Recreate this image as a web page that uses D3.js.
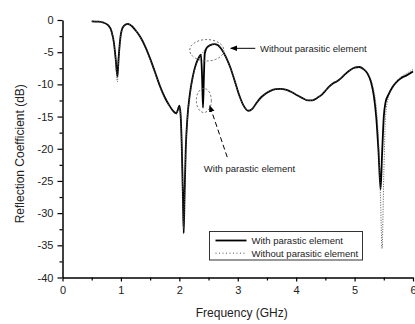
<!DOCTYPE html>
<html>
<head>
<meta charset="utf-8">
<script src="https://cdn.jsdelivr.net/npm/d3@7"></script>
<style>
  body { margin: 0; background: #fff; }
  svg text { font-family: "Liberation Sans", Arial, sans-serif; fill: #222; }
</style>
</head>
<body>
<div class="chart"></div>
<script>
// frequency (GHz) and reflection coefficient (dB)
var freq = [0.50, 0.60, 0.70, 0.78, 0.84, 0.88, 0.91, 0.94, 0.96, 0.99,
  1.03, 1.08, 1.12, 1.18, 1.25, 1.33, 1.42, 1.50, 1.58, 1.67,
  1.75, 1.83, 1.90, 1.95, 1.98, 2.00, 2.02, 2.04, 2.06, 2.075,
  2.09, 2.11, 2.14, 2.18, 2.23, 2.28, 2.33, 2.37, 2.39, 2.405,
  2.42, 2.435, 2.47, 2.53, 2.60, 2.66, 2.72, 2.80, 2.87, 2.95,
  3.03, 3.10, 3.18, 3.25, 3.32, 3.40, 3.48, 3.56, 3.65, 3.73,
  3.82, 3.90, 4.00, 4.10, 4.20, 4.28, 4.36, 4.44, 4.50, 4.56,
  4.64, 4.70, 4.76, 4.84, 4.92, 5.00, 5.08, 5.15, 5.22, 5.28,
  5.33, 5.37, 5.41, 5.445, 5.47, 5.50, 5.53, 5.58, 5.65, 5.72,
  5.80, 5.89, 6.00];

var withParasitic = [-0.2, -0.25, -0.4, -0.8, -1.8, -3.5, -6.0, -8.8, -6.0, -2.8,
  -1.2, -0.7, -0.6, -0.9, -1.6, -2.6, -4.2, -6.0, -8.0, -10.3,
  -12.0, -13.3, -14.2, -14.5, -13.8, -13.3, -14.5, -19.0, -27.0, -33.1,
  -27.0, -20.0, -15.0, -11.5, -8.8, -7.0, -5.9, -5.4, -9.0, -13.6,
  -9.0, -5.2, -4.3, -3.9, -3.75, -3.9, -4.5, -5.8, -7.3, -9.5,
  -11.8, -13.3, -14.1, -13.8, -12.9, -12.0, -11.4, -11.0, -10.75, -10.7,
  -10.8, -11.1, -11.6, -12.1, -12.5, -12.5, -12.1, -11.6, -11.0, -10.4,
  -9.8, -9.5, -9.1, -8.4, -7.8, -7.4, -7.3, -7.6, -8.3, -9.6,
  -11.8, -15.0, -20.5, -26.3, -21.0, -15.0, -12.8, -11.6, -10.4, -9.6,
  -9.0, -8.6, -8.0];

var withoutParasitic = [-0.2, -0.25, -0.4, -0.8, -1.8, -3.6, -6.3, -9.6, -6.4, -3.0,
  -1.3, -0.7, -0.6, -0.9, -1.6, -2.6, -4.3, -6.1, -8.1, -10.4,
  -12.1, -13.4, -14.3, -14.6, -13.9, -13.5, -14.8, -19.5, -28.0, -32.5,
  -27.5, -20.5, -15.3, -11.8, -9.0, -7.2, -6.0, -5.4, -5.2, -5.0,
  -4.8, -4.6, -4.3, -3.9, -3.75, -3.9, -4.5, -5.8, -7.3, -9.5,
  -11.8, -13.3, -14.1, -13.8, -12.9, -12.0, -11.4, -11.0, -10.75, -10.7,
  -10.8, -11.1, -11.6, -12.1, -12.5, -12.5, -12.1, -11.6, -11.0, -10.4,
  -9.8, -9.5, -9.1, -8.4, -7.8, -7.4, -7.3, -7.6, -8.2, -9.3,
  -11.0, -13.5, -19.0, -28.0, -35.5, -24.0, -15.0, -12.0, -10.6, -9.5,
  -8.8, -8.3, -7.7];

var xTicks = [0, 1, 2, 3, 4, 5, 6];
var yTicks = [0, -5, -10, -15, -20, -25, -30, -35, -40];
var seriesNames = ["With parastic element", "Without parasitic element"];

var w = 415;
var h = 324;
var margin = {top: 20, right: 2, bottom: 46.5, left: 62.5};

var svg = d3.select(".chart")
            .append("svg")
            .attr("width", w)
            .attr("height", h);

var x = d3.scaleLinear()
          .domain([0, 6])
          .range([margin.left, w - margin.right]);

var y = d3.scaleLinear()
          .domain([-40, 0])
          .range([h - margin.bottom, margin.top]);

// plain hyphen minus like the original
var plain = function(d){ return String(d); };

// minor ticks first, majors on top
svg.append("g")
    .attr("transform", "translate(0," + y(-40) + ")")
    .call(d3.axisBottom(x).tickValues(d3.range(0.5, 6, 1)).tickSize(3).tickSizeOuter(0).tickFormat(""))
    .call(function(g){ g.select(".domain").remove(); });

svg.append("g")
    .attr("transform", "translate(" + x(0) + ",0)")
    .call(d3.axisLeft(y).tickValues(d3.range(-37.5, 0, 5)).tickSize(3).tickSizeOuter(0).tickFormat(""))
    .call(function(g){ g.select(".domain").remove(); });

var xAxis = svg.append("g")
    .attr("transform", "translate(0," + y(-40) + ")")
    .call(d3.axisBottom(x).tickValues(xTicks).tickFormat(plain)
            .tickSize(4).tickSizeOuter(0).tickPadding(5));

var yAxis = svg.append("g")
    .attr("transform", "translate(" + x(0) + ",0)")
    .call(d3.axisLeft(y).tickValues(yTicks).tickFormat(plain)
            .tickSize(5).tickSizeOuter(0).tickPadding(4));

svg.selectAll(".tick line").attr("stroke", "#000").attr("stroke-width", 1.2);
svg.selectAll(".domain").attr("stroke", "#000").attr("stroke-width", 1.5);
svg.selectAll(".tick text").style("font-size", "11px").style("font-family", "Liberation Sans, Arial");

svg.append("text")
    .attr("x", (x(0) + x(6)) / 2 + 4)
    .attr("y", 317)
    .attr("text-anchor", "middle")
    .style("font-size", "12px")
    .text("Frequency (GHz)");

svg.append("text")
    .attr("transform", "translate(24," + ((y(0) + y(-40)) / 2 + 5) + ") rotate(-90)")
    .attr("text-anchor", "middle")
    .style("font-size", "12px")
    .text("Reflection Coefficient (dB)");

var line = d3.line()
             .x(function(d){ return x(d[0]); })
             .y(function(d){ return y(d[1]); })
             .curve(d3.curveMonotoneX);

var dataWith = freq.map(function(f, i){ return [f, withParasitic[i]]; });
var dataWithout = freq.map(function(f, i){ return [f, withoutParasitic[i]]; });

svg.append("path")
    .datum(dataWith)
    .attr("fill", "none")
    .attr("stroke", "#000")
    .attr("stroke-width", 1.8)
    .attr("d", line);

svg.append("path")
    .datum(dataWithout)
    .attr("fill", "none")
    .attr("stroke", "#555")
    .attr("stroke-width", 1)
    .attr("stroke-dasharray", "1,1.5")
    .attr("d", line);

// annotations
svg.append("defs").append("marker")
    .attr("id", "head")
    .attr("viewBox", "0 0 10 10")
    .attr("refX", 9).attr("refY", 5)
    .attr("markerWidth", 7).attr("markerHeight", 7)
    .attr("orient", "auto")
  .append("path")
    .attr("d", "M0,1 L10,5 L0,9 Z")
    .attr("fill", "#000");

svg.append("ellipse")
    .attr("cx", x(2.47)).attr("cy", y(-4.7))
    .attr("rx", 17).attr("ry", 10.7)
    .attr("fill", "none").attr("stroke", "#666")
    .attr("stroke-dasharray", "2,2");

svg.append("ellipse")
    .attr("cx", x(2.42)).attr("cy", y(-12.5))
    .attr("rx", 7.5).attr("ry", 12)
    .attr("fill", "none").attr("stroke", "#666")
    .attr("stroke-dasharray", "2,2");

svg.append("line")
    .attr("x1", x(3.3)).attr("y1", y(-4.4))
    .attr("x2", x(2.88)).attr("y2", y(-4.4))
    .attr("stroke", "#000").attr("stroke-width", 1)
    .attr("marker-end", "url(#head)");

svg.append("text")
    .attr("x", x(3.38)).attr("y", y(-4.4) + 3.5)
    .style("font-size", "9.5px")
    .text(seriesNames[1]);

svg.append("line")
    .attr("x1", x(2.82)).attr("y1", y(-21.3))
    .attr("x2", x(2.52)).attr("y2", y(-13.3))
    .attr("stroke", "#000").attr("stroke-width", 1)
    .attr("stroke-dasharray", "5,3")
    .attr("marker-end", "url(#head)");

svg.append("text")
    .attr("x", x(2.42)).attr("y", y(-23.1) + 3.5)
    .style("font-size", "9.5px")
    .text(seriesNames[0]);

// legend
var legend = svg.append("g").attr("transform", "translate(209.5,231.5)");
legend.append("rect")
    .attr("width", 153).attr("height", 28.5)
    .attr("fill", "#fff").attr("stroke", "#333").attr("stroke-width", 1);

legend.selectAll(".lg")
    .data(seriesNames)
    .join("line")
      .attr("x1", 6).attr("x2", 37)
      .attr("y1", function(d, i){ return 9 + i * 12.7; })
      .attr("y2", function(d, i){ return 9 + i * 12.7; })
      .attr("stroke", function(d, i){ return i == 0 ? "#000" : "#555"; })
      .attr("stroke-width", function(d, i){ return i == 0 ? 1.8 : 1; })
      .attr("stroke-dasharray", function(d, i){ return i == 0 ? null : "1,2.5"; });

legend.selectAll("text")
    .data(seriesNames)
    .join("text")
      .attr("x", 42)
      .attr("y", function(d, i){ return 12.5 + i * 12.7; })
      .style("font-size", "9.5px")
      .text(function(d){ return d; });
</script>
</body>
</html>
